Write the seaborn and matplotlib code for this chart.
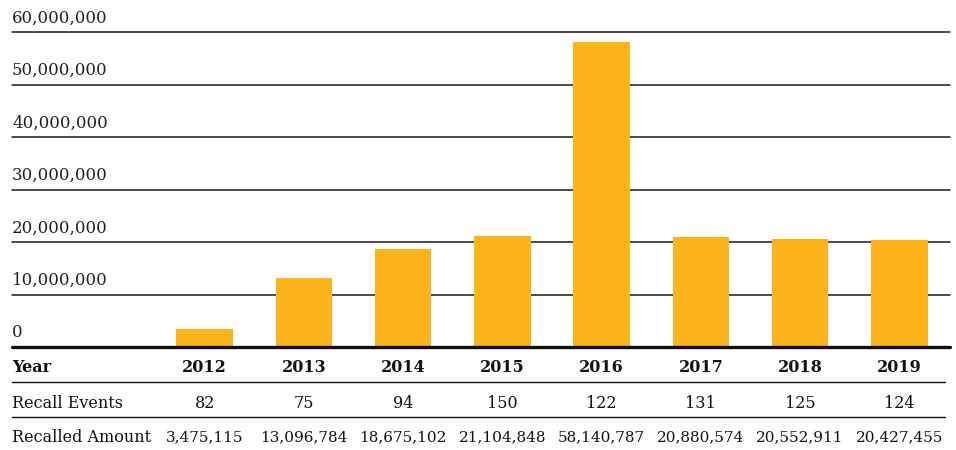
import matplotlib
matplotlib.use("Agg")
import matplotlib.pyplot as plt
import matplotlib.transforms as mtransforms
import seaborn as sns

# data
years = ["2012", "2013", "2014", "2015", "2016", "2017", "2018", "2019"]
recall_events = [82, 75, 94, 150, 122, 131, 125, 124]
recalled_amount = [3475115, 13096784, 18675102, 21104848, 58140787, 20880574, 20552911, 20427455]
y_ticks = [0, 10000000, 20000000, 30000000, 40000000, 50000000, 60000000]
row_labels = ["Year", "Recall Events", "Recalled Amount"]

sns.set_theme(style="white")
plt.rcParams['font.family'] = ['DejaVu Serif', 'DejaVu Sans']

fig = plt.figure(figsize=(9.56, 4.5), dpi=100)
W, H = 956, 450
# axes: left 12px, right 950px, zero line at y=347px, 60M line at y=32px
ax = fig.add_axes([12 / W, (H - 347) / H, (950 - 12) / W, (347 - 32) / H])

bar_color = "#FDB41C"
sns.barplot(x=years, y=recalled_amount, color=bar_color, width=0.57,
            saturation=1, linewidth=0, edgecolor=bar_color, ax=ax, zorder=3)

# x range: label column on the left is ~1.44 category widths
ax.set_xlim(-1.94, 7.51)
ax.set_ylim(0, 60000000)

for spine in ax.spines.values():
    spine.set_visible(False)
ax.set_xticks([])
ax.set_yticks([])
ax.set_xlabel("")
ax.set_ylabel("")

# grid lines and labels sitting on top of them
lab_trans = mtransforms.offset_copy(
    mtransforms.blended_transform_factory(ax.transAxes, ax.transData),
    fig=fig, y=4, units="points")
for t in y_ticks:
    if t == 0:
        ax.axhline(t, color="#111111", lw=2.4, zorder=4, clip_on=False)
    else:
        ax.axhline(t, color="#1a1a1a", lw=1.1, zorder=1, clip_on=False)
    ax.text(0, t, f"{t:,}", transform=lab_trans, ha="left", va="bottom",
            fontsize=12, color="#222222")

# table under the chart
ah = 347 - 32
tbl = mtransforms.blended_transform_factory(ax.transData, ax.transAxes)
row_y = [-20 / ah, -56 / ah, -90 / ah]
line_y = [-35 / ah, -70 / ah]

ax.text(0, row_y[0], row_labels[0], transform=ax.transAxes, ha="left", va="center",
        fontsize=11.5, fontweight="bold", color="#111111")
ax.text(0, row_y[1], row_labels[1], transform=ax.transAxes, ha="left", va="center",
        fontsize=11.5, color="#111111")
ax.text(0, row_y[2], row_labels[2], transform=ax.transAxes, ha="left", va="center",
        fontsize=11.5, color="#111111")

for i, yr in enumerate(years):
    ax.text(i, row_y[0], yr, transform=tbl, ha="center", va="center",
            fontsize=11.5, fontweight="bold", color="#111111")
    ax.text(i, row_y[1], str(recall_events[i]), transform=tbl, ha="center",
            va="center", fontsize=11.5, color="#111111")
    ax.text(i, row_y[2], f"{recalled_amount[i]:,}", transform=tbl, ha="center",
            va="center", fontsize=11, color="#111111")

for ly in line_y:
    ax.plot([0, 0.995], [ly, ly], transform=ax.transAxes, color="#111111",
            lw=1.0, clip_on=False)

fig.savefig("out.png", dpi=100)
